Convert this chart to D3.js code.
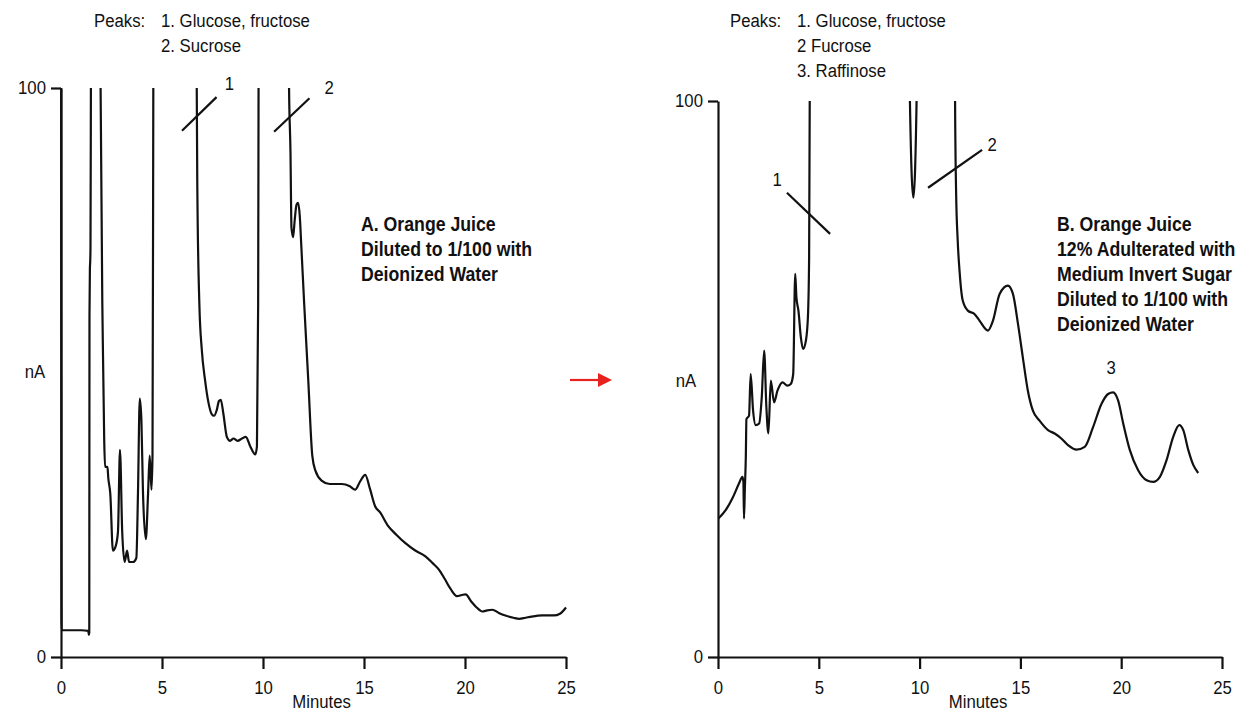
<!DOCTYPE html>
<html>
<head>
<meta charset="utf-8">
<script src="https://cdn.jsdelivr.net/npm/d3@7"></script>
<style>
  html, body { margin: 0; padding: 0; background: #fff; }
  svg { display: block; }
  text { font-family: "Liberation Sans", Arial, sans-serif; fill: #111; }
  .note { font-weight: bold; }
</style>
</head>
<body>
<svg id="chart" width="1240" height="718"></svg>
<script>
// ---- Chromatogram A: orange juice diluted to 1/100 (values above 100 nA run off scale) ----
const timeA = [
  0.00, 0.03, 0.5, 1.0, 1.35, 1.38, 1.40, 1.41, 1.43, 1.45, 1.46, 1.48, 1.50,
  1.94, 1.96, 2.07, 2.14, 2.18, 2.30, 2.34, 2.44, 2.57, 2.70, 2.82, 2.92, 3.03, 3.15, 3.27, 3.37, 3.57, 3.73, 3.81, 3.90, 3.98, 4.06, 4.20, 4.31, 4.39, 4.48, 4.53, 4.57, 4.59,
  6.70, 6.72, 6.75, 6.85, 6.97, 7.13, 7.30, 7.46, 7.58, 7.71, 7.82, 7.91, 8.04, 8.21, 8.37, 8.54, 8.74, 8.96, 9.15, 9.37, 9.62, 9.70, 9.76, 9.78, 9.80,
  11.27, 11.29, 11.36, 11.41, 11.49, 11.57, 11.66, 11.74, 11.82, 11.90, 12.04, 12.24, 12.44, 12.60, 12.90, 13.30, 13.90, 14.30, 14.56, 14.80, 15.06, 15.30, 15.55, 15.80, 16.20, 16.60, 17.05, 17.50, 18.04, 18.40, 18.70, 19.00, 19.28, 19.60, 19.85, 20.03, 20.30, 20.55, 20.86, 21.10, 21.35, 21.70, 22.00, 22.40, 22.68, 23.00, 23.30, 23.84, 24.40, 24.70, 25.00
];
const signalA = [
  130, 4.7, 4.7, 4.7, 4.6, 3.9, 4.3, 60, 68, 70, 72, 100, 130,
  130, 100, 55.4, 38, 33.4, 33.4, 31.5, 28.7, 18.7, 19.4, 22, 36.4, 22, 16.7, 18.7, 16.7, 16.7, 17.4, 28.7, 45.4, 41.7, 28.7, 20.7, 28.7, 35.4, 29.4, 35.4, 100, 130,
  130, 100, 82, 62, 54, 48.7, 44.7, 42.7, 42.4, 43.4, 45, 45.2, 42.7, 38.7, 38, 38.4, 38, 38.4, 38.7, 37, 35.6, 37, 62, 100, 130,
  130, 100, 88.8, 75.4, 73.8, 76.8, 79.5, 79.8, 77.5, 72, 62, 48.7, 35.4, 32.7, 31, 30.4, 30.4, 30, 29.4, 30.8, 32, 29.5, 26.5, 25.4, 23, 21.5, 20, 18.8, 17.7, 16.5, 15.4, 13.7, 12, 10.7, 10.9, 11, 9.8, 8.8, 8, 8.2, 8.3, 7.7, 7.3, 6.9, 6.7, 6.9, 7.1, 7.3, 7.3, 7.6, 8.7
];

// ---- Chromatogram B: same juice, 12% adulterated with medium invert sugar ----
const timeB = [
  0.02, 0.38, 0.71, 1.04, 1.21, 1.26, 1.29, 1.33, 1.38, 1.41, 1.54, 1.62, 1.74, 1.87, 2.04, 2.17, 2.29, 2.40, 2.50, 2.62, 2.78, 2.95, 3.20, 3.44, 3.61, 3.73, 3.83, 3.89, 3.99, 4.11, 4.22, 4.36, 4.46, 4.52, 4.55, 4.57,
  9.50, 9.52, 9.69, 9.85, 9.87,
  11.74, 11.76, 11.81, 11.89, 11.98, 12.14, 12.39, 12.72, 12.97, 13.39, 13.64, 13.97, 14.38, 14.63, 14.88, 15.12, 15.37, 15.62, 15.95, 16.37, 16.70, 17.03, 17.36, 17.78, 18.19, 18.60, 19.02, 19.35, 19.60, 19.85, 20.10, 20.43, 20.84, 21.26, 21.59, 21.92, 22.25, 22.58, 22.88, 23.08, 23.33, 23.58, 23.82
];
const signalB = [
  24.9, 26.4, 28.5, 31.2, 32.4, 31.5, 24.9, 30, 36, 42.8, 43.4, 50.9, 44.3, 41.7, 42, 46.7, 55.1, 44.9, 40.2, 49.7, 45.8, 47.9, 49.4, 48.8, 49.1, 50.9, 68.9, 64.7, 62.3, 57.5, 55.4, 56.9, 61.1, 71.9, 100, 130,
  130, 100, 82.6, 100, 130,
  130, 100, 83.8, 74.9, 69.5, 64.1, 62.3, 61.7, 60.5, 58.7, 60.5, 65.3, 66.8, 65.3, 59.9, 53.9, 47.9, 44.3, 42.5, 40.8, 40.2, 39.3, 38.1, 37.3, 37.8, 41.3, 45.5, 47.3, 47.6, 46.1, 42, 37.2, 33.6, 31.8, 31.5, 32.4, 35.4, 39.6, 41.7, 40.8, 37.2, 34.5, 33.1
];

// Axis ticks
const xTicks = [0, 5, 10, 15, 20, 25];
const yTicks = [0, 100];
const xTitle = "Minutes";
const yTitle = "nA";

// Peak legends
const peaksA = ["1. Glucose, fructose", "2. Sucrose"];
const peaksB = ["1. Glucose, fructose", "2 Fucrose", "3. Raffinose"];

// Sample descriptions
const noteA = ["A. Orange Juice", "Diluted to 1/100 with", "Deionized Water"];
const noteB = ["B. Orange Juice", "12% Adulterated with", "Medium Invert Sugar", "Diluted to 1/100 with", "Deionized Water"];

// Peak markers: slash across the trace [t1, v1, t2, v2] and the number [label, t, v]
const slashA = [[5.99, 92.5, 7.70, 98.4], [10.55, 92.3, 12.30, 98.2]];
const peakNumA = [["1", 8.34, 99.6], ["2", 13.27, 98.9]];
const slashB = [[3.42, 83.5, 5.56, 76.1], [10.42, 84.4, 13.10, 91.2]];
const peakNumB = [["1", 2.93, 84.7], ["2", 13.6, 91.0], ["3", 19.5, 50.9]];

const svg = d3.select("#chart");
const ink = "#111";
const noteSqueeze = 0.885;

function panel(cfg) {
  const x = d3.scaleLinear().domain([0, 25]).range(cfg.xr);
  const y = d3.scaleLinear().domain([0, 100]).range(cfg.yr);
  const g = svg.append("g");

  const clipId = "clip-" + cfg.id;
  svg.append("clipPath").attr("id", clipId)
    .append("rect")
    .attr("x", cfg.xr[0] - 20).attr("y", y(100))
    .attr("width", cfg.xr[1] - cfg.xr[0] + 40).attr("height", 718 - y(100));

  // axes
  const xAxis = g.append("g").attr("transform", `translate(0,${y(0)})`)
    .call(d3.axisBottom(x).tickValues(xTicks).tickSize(12).tickSizeOuter(0).tickPadding(12));
  const yAxis = g.append("g").attr("transform", `translate(${x(0)},0)`)
    .call(d3.axisLeft(y).tickValues(yTicks).tickSize(10).tickSizeOuter(0).tickPadding(5));
  [xAxis, yAxis].forEach(a => {
    a.selectAll("path, line").attr("stroke", ink).attr("stroke-width", 2.2);
    a.selectAll("text").attr("font-size", 18).attr("fill", ink)
      .style("font-family", '"Liberation Sans", Arial, sans-serif');
  });

  g.append("text").attr("x", x(12.9)).attr("y", 708).attr("text-anchor", "middle")
    .attr("font-size", 18).text(xTitle);
  g.append("text").attr("x", cfg.nA[0]).attr("y", cfg.nA[1]).attr("text-anchor", "middle")
    .attr("font-size", 18).text(yTitle);

  // trace
  const pts = cfg.t.map((t, i) => [t, cfg.v[i]]);
  const line = d3.line().x(d => x(d[0])).y(d => y(d[1])).curve(d3.curveMonotoneX);
  g.append("path").datum(pts)
    .attr("clip-path", `url(#${clipId})`)
    .attr("d", line)
    .attr("fill", "none").attr("stroke", ink).attr("stroke-width", 2.2)
    .attr("stroke-linejoin", "round");

  // peak markers
  g.selectAll(".slash").data(cfg.slash).join("line")
    .attr("x1", d => x(d[0])).attr("y1", d => y(d[1]))
    .attr("x2", d => x(d[2])).attr("y2", d => y(d[3]))
    .attr("stroke", ink).attr("stroke-width", 2.2);
  g.selectAll(".pnum").data(cfg.nums).join("text")
    .attr("x", d => x(d[1])).attr("y", d => y(d[2]))
    .attr("text-anchor", "middle").attr("font-size", 18).text(d => d[0]);

  // legend of peaks
  g.append("text").attr("x", cfg.legend[0]).attr("y", cfg.legend[1]).attr("font-size", 18).text("Peaks:");
  g.selectAll(".pk").data(cfg.peaks).join("text")
    .attr("x", cfg.legend[2]).attr("y", (d, i) => cfg.legend[1] + i * 25)
    .attr("font-size", 18).text(d => d);

  // sample description (bold, condensed by a horizontal squeeze of its group)
  g.append("g")
    .attr("transform", `translate(${cfg.notePos[0]},${cfg.notePos[1]}) scale(${noteSqueeze},1)`)
    .selectAll(".note").data(cfg.note).join("text").attr("class", "note")
    .attr("x", 0).attr("y", (d, i) => i * 25)
    .attr("font-size", 20).text(d => d);

  return { x, y };
}

const A = panel({
  id: "a", xr: [61, 566], yr: [657, 88], t: timeA, v: signalA,
  slash: slashA, nums: peakNumA, peaks: peaksA, note: noteA,
  legend: [94, 27, 161], notePos: [361, 231], nA: [35, 378]
});
const B = panel({
  id: "b", xr: [718, 1222], yr: [657, 101], t: timeB, v: signalB,
  slash: slashB, nums: peakNumB, peaks: peaksB, note: noteB,
  legend: [730, 27, 797], notePos: [1057, 231], nA: [686, 387]
});

// condensed lettering for the regular labels
svg.selectAll("text:not(.note)").each(function () {
  const w = this.getComputedTextLength();
  d3.select(this).attr("textLength", w * 0.93).attr("lengthAdjust", "spacingAndGlyphs");
});

// red arrow between the two runs
const ax0 = A.x(25) + 4, ax1 = B.x(0) - 106, ay = 380;
svg.append("line").attr("x1", ax0).attr("y1", ay).attr("x2", ax1 - 10).attr("y2", ay)
  .attr("stroke", "#e8231f").attr("stroke-width", 2.2);
svg.append("path")
  .attr("d", `M${ax1},${ay} L${ax1 - 14},${ay - 7} L${ax1 - 14},${ay + 7} Z`)
  .attr("fill", "#e8231f");
</script>
</body>
</html>
